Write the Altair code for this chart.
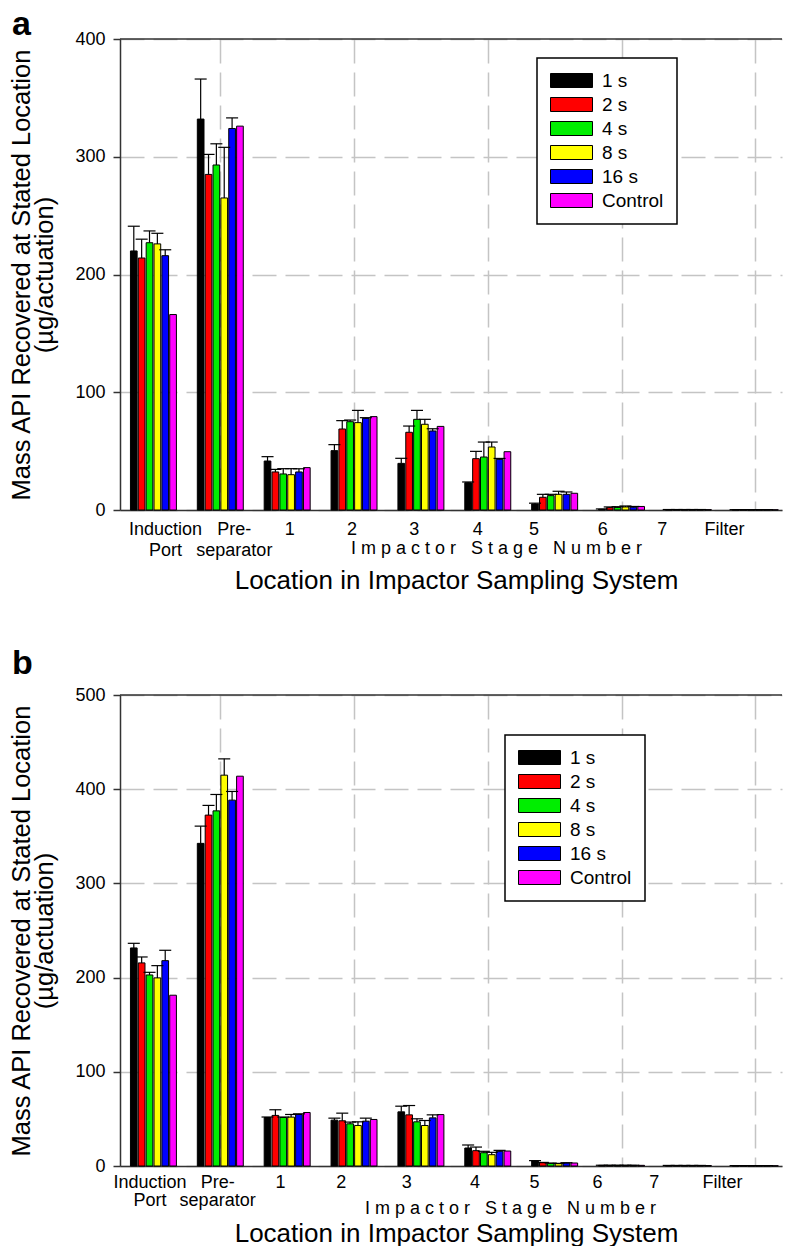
import altair as alt
import pandas as pd

# ---------------- data ----------------
locations = ["Induction\nPort", "Pre-\nseparator", "1", "2", "3", "4", "5", "6", "7", "Filter"]
series = ["1 s", "2 s", "4 s", "8 s", "16 s", "Control"]
colors = ["#000000", "#ff0000", "#00ee00", "#ffff00", "#0000ff", "#ff00ff"]

# Panel a : mean mass per location (ug/actuation)
a_1s = [220, 332, 41.6, 50.4, 39.6, 23.2, 5.1, 0.6, 0.3, 0.2]
a_2s = [214, 285, 32.3, 68.8, 66.0, 43.6, 10.8, 2.0, 0.3, 0.2]
a_4s = [227, 293, 30.6, 75.0, 77.0, 45.0, 12.2, 2.2, 0.3, 0.2]
a_8s = [226, 265, 30.0, 74.2, 72.8, 53.5, 13.3, 2.6, 0.3, 0.2]
a_16s = [216, 324, 32.3, 77.8, 67.1, 43.0, 13.3, 2.4, 0.3, 0.2]
a_ctrl = [166, 326, 36.0, 79.3, 71.0, 49.5, 14.2, 3.0, 0.3, 0.2]
# Panel a : upper end of error bars
a_1s_err = [241, 366, 45.3, 55.5, 43.9, 23.8, 5.8, 0.9, 0.4, 0.3]
a_2s_err = [230, 302, 34.5, 75.9, 71.3, 49.8, 13.3, 2.6, 0.4, 0.3]
a_4s_err = [237, 311, 35.1, 76.4, 84.6, 57.7, 13.3, 2.8, 0.4, 0.3]
a_8s_err = [235, 308, 35.1, 84.6, 77.0, 57.7, 15.9, 3.4, 0.4, 0.3]
a_16s_err = [221, 333, 35.0, 78.4, 69.0, 43.8, 15.3, 3.0, 0.4, 0.3]

# Panel b
b_1s = [231.5, 342.5, 51.5, 48.7, 57.5, 19.1, 5.3, 0.7, 0.5, 0.3]
b_2s = [215.6, 372.5, 53.7, 48.0, 54.3, 16.3, 3.5, 0.7, 0.5, 0.3]
b_4s = [202.8, 377.0, 51.5, 44.8, 46.9, 14.1, 2.8, 0.7, 0.5, 0.3]
b_8s = [199.7, 414.9, 51.9, 43.0, 43.0, 12.0, 2.5, 0.7, 0.5, 0.3]
b_16s = [218.0, 388.4, 54.7, 47.6, 51.1, 15.6, 3.2, 0.7, 0.5, 0.3]
b_ctrl = [181.3, 413.8, 56.8, 49.4, 54.6, 15.9, 3.2, 0.7, 0.5, 0.3]
b_1s_err = [236.4, 360.8, 52.0, 50.8, 63.5, 22.3, 5.7, 0.8, 0.6, 0.4]
b_2s_err = [221.9, 382.8, 59.7, 56.1, 64.2, 20.1, 3.8, 0.8, 0.6, 0.4]
b_4s_err = [205.6, 394.4, 52.0, 46.6, 50.1, 15.6, 3.1, 0.8, 0.6, 0.4]
b_8s_err = [212.7, 432.2, 54.7, 46.9, 48.3, 14.5, 2.8, 0.8, 0.6, 0.4]
b_16s_err = [229.0, 397.6, 55.4, 50.8, 54.3, 16.6, 3.5, 0.8, 0.6, 0.4]

# tick-label positions on the x axis (axis units, groups at 1..10)
a_tick_pos = [1.18, 2.21, 3.04, 3.97, 4.90, 5.85, 6.69, 7.72, 8.61, 9.54]
b_tick_pos = [0.95, 1.96, 2.90, 3.81, 4.79, 5.81, 6.70, 7.64, 8.49, 9.51]
stage_caption = "\u00a0\u00a0\u00a0".join("\u00a0".join(w) for w in ["Impactor", "Stage", "Number"])
a_caption_pos = 6.13
b_caption_pos = 6.34

y_title = ["Mass API Recovered at Stated Location", "(\u00b5g/actuation)"]
x_title = "Location in Impactor Sampling System"

# ---------------- layout constants ----------------
W = 662
H = 471
XDOM = [0.5, 10.4]
STEP = 0.1175
BAR_W = 0.10
CAP_W = 0.18
FONT = "Liberation Sans"
GRID = dict(grid=True, gridDash=[24, 9], gridColor="#c4c4c4", gridWidth=1.5)


def build_frame(vals, errs):
    rows = []
    for k, s in enumerate(series):
        for g in range(len(locations)):
            xc = g + 1 + (k - 2.5) * STEP
            e = errs[k][g] if k < len(errs) else None
            rows.append(dict(series=s, order=k, value=vals[k][g], err=e,
                             x0=xc - BAR_W / 2, x1=xc + BAR_W / 2, xc=xc,
                             c0=xc - CAP_W / 2, c1=xc + CAP_W / 2))
    return pd.DataFrame(rows)


def panel(vals, errs, ymax, letter, letter_y, tick_pos, cap_pos, lab_y, lab_lh,
          cap_y, title_y, leg_x, leg_y):
    df = build_frame(vals, errs)
    err_df = df[df["err"].notna()]
    xs = alt.Scale(domain=XDOM, nice=False, zero=False)
    ys = alt.Scale(domain=[0, ymax], nice=False)
    x_axis = alt.Axis(
        values=[2, 4, 6, 8, 10], labels=False, ticks=False,
        domainColor="#333333", domainWidth=1.5,
        title=x_title, titleFontSize=26, titleFontWeight="normal",
        titleColor="black", titleBaseline="top", titleY=title_y,
        titleX=W / 2 + 5, **GRID)
    y_axis = alt.Axis(
        values=list(range(0, ymax + 1, 100)), format="d",
        labelFontSize=18, labelColor="black", labelPadding=8,
        tickSize=7, tickColor="#333333", tickWidth=1.5,
        domainColor="#333333", domainWidth=1.5,
        title=y_title, titleFontSize=25.5, titleFontWeight="normal",
        titleColor="black", titleX=-99, titleY=H / 2, titleAngle=270,
        titleBaseline="middle", titleLineHeight=23, **GRID)

    bars = alt.Chart(df).mark_bar(stroke="black", strokeWidth=1).encode(
        x=alt.X("x0:Q", scale=xs, axis=x_axis),
        x2="x1:Q",
        y=alt.Y("value:Q", scale=ys, axis=y_axis),
        y2=alt.datum(0),
        color=alt.Color("series:N", sort=series,
                        scale=alt.Scale(domain=series, range=colors),
                        legend=alt.Legend(
                            title=None, orient="none", legendX=leg_x, legendY=leg_y,
                            symbolType="M-3,-1H3V1H-3Z", symbolSize=196,
                            symbolStrokeColor="black", symbolStrokeWidth=1,
                            labelFontSize=19, labelColor="black", labelOffset=21,
                            symbolOffset=12, rowPadding=4, padding=13,
                            strokeColor="black", fillColor="white")),
        order="order:Q",
    )
    stems = alt.Chart(err_df).mark_rule(color="black", strokeWidth=1.2).encode(
        x=alt.X("xc:Q", scale=xs, axis=x_axis),
        y=alt.Y("value:Q", scale=ys, axis=y_axis),
        y2="err:Q",
    )
    caps = alt.Chart(err_df).mark_rule(color="black", strokeWidth=1.2).encode(
        x=alt.X("c0:Q", scale=xs, axis=x_axis),
        x2="c1:Q",
        y=alt.Y("err:Q", scale=ys, axis=y_axis),
    )
    top_rule = alt.Chart(alt.Data(values=[{"k": 0}])).mark_rule(
        color="#333333", strokeWidth=1.5).encode(
        x=alt.value(0), x2=alt.value(W), y=alt.value(0))

    lab_df = pd.DataFrame({"lab": locations, "pos": tick_pos})
    ticks = alt.Chart(lab_df).mark_text(
        align="center", baseline="top", fontSize=18, lineBreak="\n",
        lineHeight=lab_lh, color="black").encode(
        x=alt.X("pos:Q", scale=xs, axis=x_axis),
        y=alt.value(H + lab_y), text="lab:N")
    cap_df = pd.DataFrame({"lab": [stage_caption], "pos": [cap_pos]})
    caption = alt.Chart(cap_df).mark_text(
        align="center", baseline="top", fontSize=18, color="black").encode(
        x=alt.X("pos:Q", scale=xs, axis=x_axis),
        y=alt.value(H + cap_y), text="lab:N")
    let = alt.Chart(alt.Data(values=[{"t": letter}])).mark_text(
        align="left", baseline="top", fontSize=34, fontWeight="bold",
        color="black").encode(x=alt.value(-108), y=alt.value(letter_y), text="t:N")

    return alt.layer(bars, stems, caps, top_rule, ticks, caption, let).properties(
        width=W, height=H)


a_vals = [a_1s, a_2s, a_4s, a_8s, a_16s, a_ctrl]
a_errs = [a_1s_err, a_2s_err, a_4s_err, a_8s_err, a_16s_err]
b_vals = [b_1s, b_2s, b_4s, b_8s, b_16s, b_ctrl]
b_errs = [b_1s_err, b_2s_err, b_4s_err, b_8s_err, b_16s_err]

pa = panel(a_vals, a_errs, 400, "a", -31, a_tick_pos, a_caption_pos,
           11, 21, 30, 57, 417, 19)
pb = panel(b_vals, b_errs, 500, "b", -48, b_tick_pos, b_caption_pos,
           8, 17.5, 34, 54, 385, 40)

chart = alt.vconcat(pa, pb, spacing=54).resolve_scale(
    color="independent", x="independent", y="independent"
).properties(padding=0).configure(font=FONT).configure_view(
    stroke=None).configure_legend(strokeWidth=1.5)

chart.save("out.html", embed_options={"renderer": "svg", "actions": False})
